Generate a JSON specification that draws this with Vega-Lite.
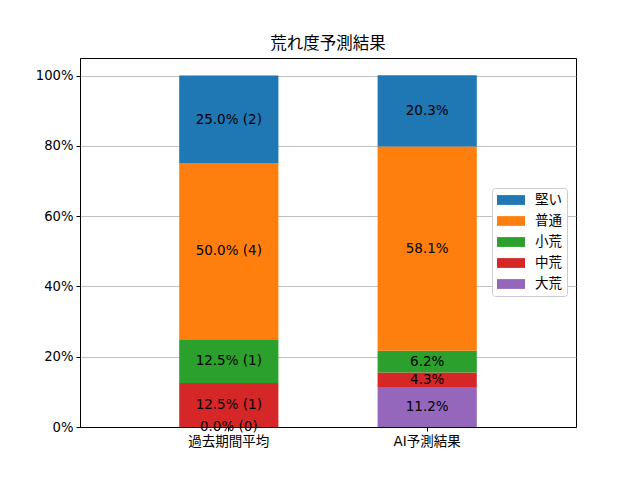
{
  "$schema": "https://vega.github.io/schema/vega-lite/v6.json",
  "width": 496,
  "height": 369,
  "autosize": "none",
  "padding": {"left": 80, "top": 58, "right": 64, "bottom": 53},
  "background": "white",
  "config": {
    "font": "DejaVu Sans, Noto Sans CJK JP",
    "view": {"stroke": "#000000", "strokeWidth": 1}
  },
  "title": {
    "text": "荒れ度予測結果",
    "font": "Noto Sans CJK JP",
    "fontSize": 16.5,
    "fontWeight": "normal",
    "color": "#000000",
    "offset": 6
  },
  "data": {
    "values": [
      {"cat": "過去期間平均", "kind": "大荒", "k": 0, "pct": 0.0, "label": "0.0% (0)"},
      {"cat": "過去期間平均", "kind": "中荒", "k": 1, "pct": 12.5, "label": "12.5% (1)"},
      {"cat": "過去期間平均", "kind": "小荒", "k": 2, "pct": 12.5, "label": "12.5% (1)"},
      {"cat": "過去期間平均", "kind": "普通", "k": 3, "pct": 50.0, "label": "50.0% (4)"},
      {"cat": "過去期間平均", "kind": "堅い", "k": 4, "pct": 25.0, "label": "25.0% (2)"},
      {"cat": "AI予測結果", "kind": "大荒", "k": 0, "pct": 11.2, "label": "11.2%"},
      {"cat": "AI予測結果", "kind": "中荒", "k": 1, "pct": 4.3, "label": "4.3%"},
      {"cat": "AI予測結果", "kind": "小荒", "k": 2, "pct": 6.2, "label": "6.2%"},
      {"cat": "AI予測結果", "kind": "普通", "k": 3, "pct": 58.1, "label": "58.1%"},
      {"cat": "AI予測結果", "kind": "堅い", "k": 4, "pct": 20.3, "label": "20.3%"}
    ]
  },
  "transform": [
    {"stack": "pct", "groupby": ["cat"], "sort": [{"field": "k", "order": "ascending"}], "as": ["y0", "y1"]},
    {"calculate": "(datum.y0 + datum.y1) / 2", "as": "ymid"}
  ],
  "encoding": {
    "x": {
      "field": "cat",
      "type": "nominal",
      "sort": ["過去期間平均", "AI予測結果"],
      "title": null,
      "scale": {"paddingInner": 0.5, "paddingOuter": 0.5},
      "axis": {
        "labelAngle": 0,
        "labelFontSize": 13.5,
        "labelColor": "#000000",
        "labelPadding": 3,
        "tickColor": "#000000",
        "tickSize": 4,
        "domainColor": "#000000",
        "grid": false
      }
    }
  },
  "layer": [
    {
      "mark": {"type": "bar"},
      "encoding": {
        "y": {
          "field": "y1",
          "type": "quantitative",
          "title": null,
          "scale": {"domain": [0, 105], "nice": false},
          "axis": {
            "values": [0, 20, 40, 60, 80, 100],
            "labelExpr": "datum.value + '%'",
            "labelFontSize": 13.2,
            "labelColor": "#000000",
            "labelPadding": 3,
            "tickColor": "#000000",
            "tickSize": 4,
            "domainColor": "#000000",
            "gridColor": "#b0b0b0",
            "gridWidth": 0.8
          }
        },
        "y2": {"field": "y0"},
        "color": {
          "field": "kind",
          "type": "nominal",
          "scale": {
            "domain": ["堅い", "普通", "小荒", "中荒", "大荒"],
            "range": ["#1f77b4", "#ff7f0e", "#2ca02c", "#d62728", "#9467bd"]
          },
          "legend": {
            "title": null,
            "orient": "none",
            "legendX": 412,
            "legendY": 130,
            "symbolType": "M-1,-0.7H3V0.7H-1Z",
            "symbolSize": 196,
            "symbolStrokeWidth": 0,
            "labelOffset": 24,
            "labelFontSize": 13.5,
            "labelFont": "Noto Sans CJK JP",
            "labelColor": "#000000",
            "rowPadding": 7,
            "padding": 5,
            "strokeColor": "#cccccc",
            "fillColor": "#ffffff",
            "cornerRadius": 3
          }
        }
      }
    },
    {
      "mark": {"type": "text", "fontSize": 13.5, "color": "#000000", "baseline": "middle"},
      "encoding": {
        "y": {"field": "ymid", "type": "quantitative"},
        "text": {"field": "label"}
      }
    }
  ]
}
